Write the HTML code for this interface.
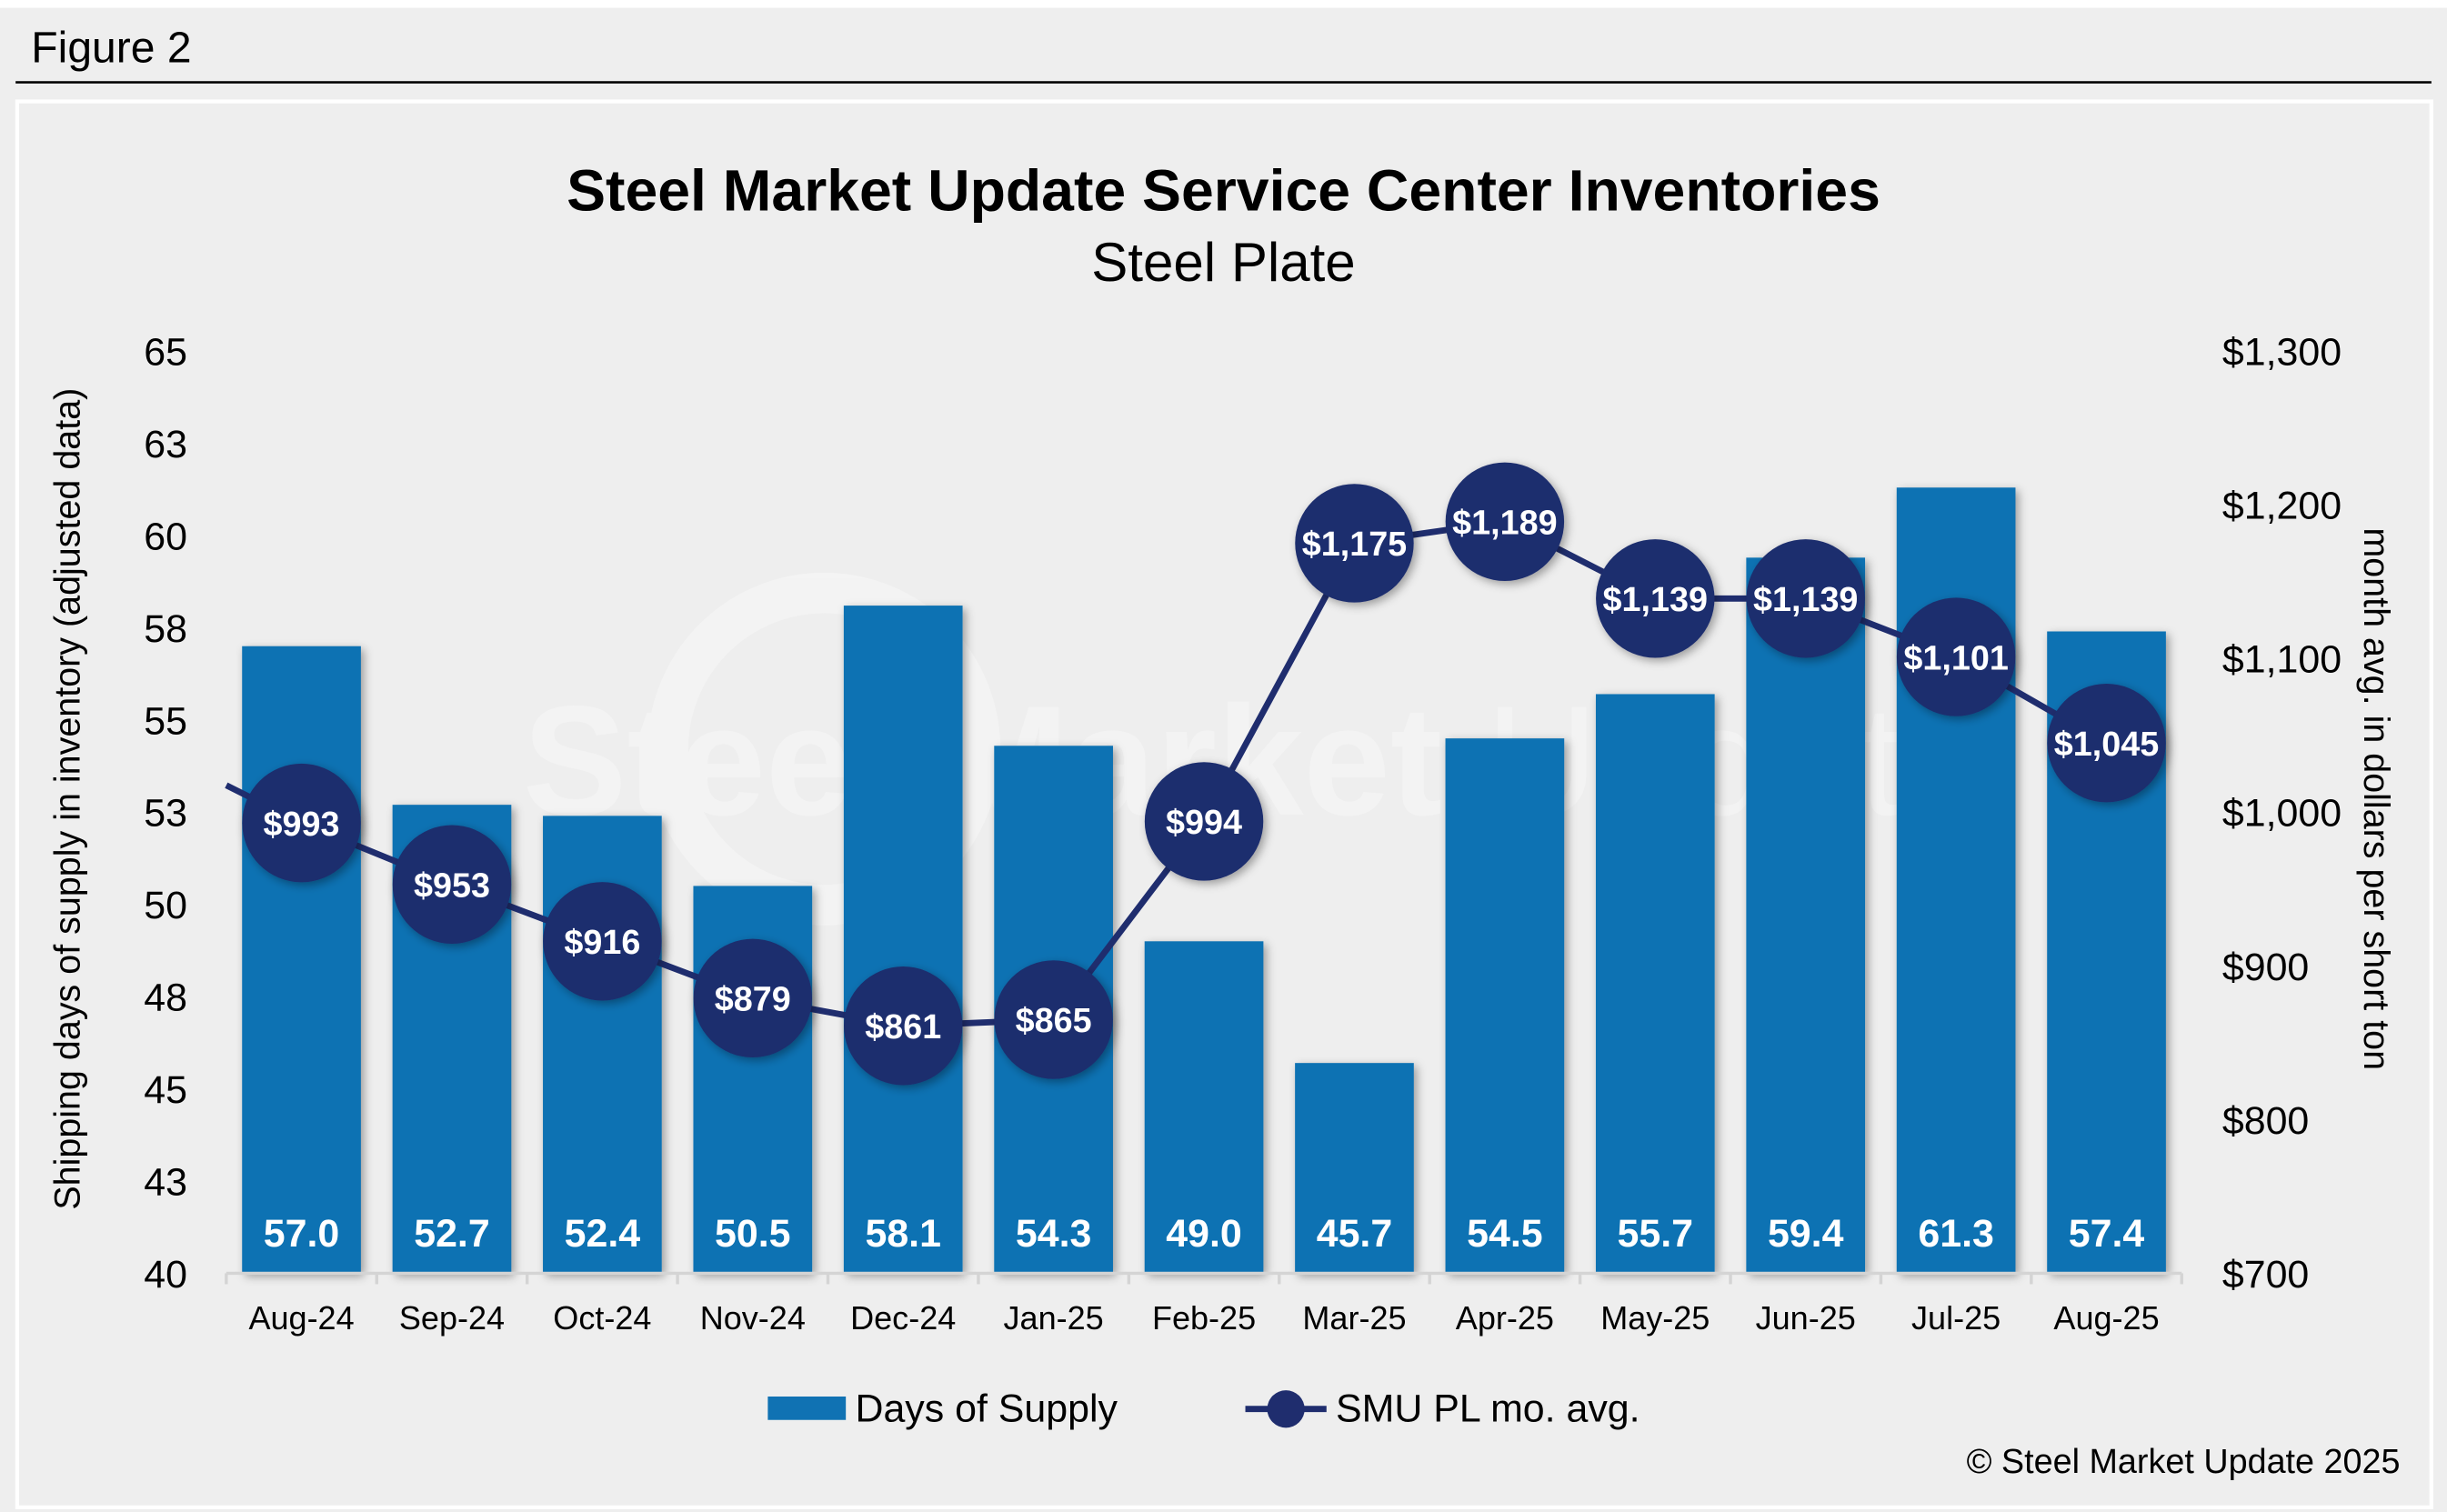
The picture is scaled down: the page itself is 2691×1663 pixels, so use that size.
<!DOCTYPE html>
<html><head><meta charset="utf-8"><style>
html,body{margin:0;padding:0;background:#eeeeee;}
svg{display:block;font-family:"Liberation Sans",Arial,sans-serif;}
</style></head><body>
<svg id="chart" width="2691" height="1663" viewBox="0 0 1568 969" preserveAspectRatio="none">
<defs>
<filter id="sh" x="-30%" y="-30%" width="160%" height="160%"><feDropShadow dx="2" dy="2" stdDeviation="3" flood-color="#000" flood-opacity="0.35"/></filter>
</defs>
<rect x="0" y="0" width="1568" height="969" fill="#eeeeee"/>
<rect x="0" y="0" width="1568" height="5" fill="#ffffff"/>
<text x="20" y="40" font-size="28" fill="#000">Figure 2</text>
<rect x="10" y="52" width="1548" height="1.5" fill="#000"/>
<rect x="11" y="65" width="1547" height="901" fill="none" stroke="#ffffff" stroke-width="2.5"/>
<g opacity="0.35" fill="#ffffff">
<circle cx="528" cy="480" r="100" fill="none" stroke="#ffffff" stroke-width="26"/>
<text x="335" y="522" font-size="100" font-weight="bold">Steel Market <tspan font-weight="normal">Update</tspan></text>
</g>
<text x="784" y="135" font-size="37.5" font-weight="bold" text-anchor="middle">Steel Market Update Service Center Inventories</text>
<text x="784" y="180" font-size="35" text-anchor="middle">Steel Plate</text>
<g id="yleft"></g>
<g id="yright"></g>
<g id="bars"></g>
<g id="xaxis"></g>
<g id="line"></g>
<text transform="translate(51,512) rotate(-90)" font-size="23" text-anchor="middle">Shipping days of supply in inventory (adjusted data)</text>
<text transform="translate(1515,512) rotate(90)" font-size="23" text-anchor="middle">month avg. in dollars per short ton</text>
<g>
<g>
<rect x="492" y="895" width="50" height="15" fill="#1072b3"/>
<text x="548" y="911" font-size="25">Days of Supply</text>
</g>
<g>
<line x1="798" y1="903" x2="850" y2="903" stroke="#1f2d6e" stroke-width="4"/>
<circle cx="824" cy="903" r="12" fill="#1f2d6e"/>
<text x="856" y="911" font-size="25">SMU PL mo. avg.</text>
</g>
</g>
<text x="1538" y="944" font-size="22" text-anchor="end">© Steel Market Update 2025</text>
</svg>
<script>
const categories = ["Aug-24","Sep-24","Oct-24","Nov-24","Dec-24","Jan-25","Feb-25","Mar-25","Apr-25","May-25","Jun-25","Jul-25","Aug-25"];
const daysOfSupply = [57.0,52.7,52.4,50.5,58.1,54.3,49.0,45.7,54.5,55.7,59.4,61.3,57.4];
const priceAvg = [993,953,916,879,861,865,994,1175,1189,1139,1139,1101,1045];
const priorPrice = 1042;
const leftTicks = [40,42.5,45,47.5,50,52.5,55,57.5,60,62.5,65];
const leftTickLabels = ["40","43","45","48","50","53","55","58","60","63","65"];
const rightTicks = [700,800,900,1000,1100,1200,1300];

const NS="http://www.w3.org/2000/svg";
const X0=145, X1=1398, YB=816, YT=225;
const band=(X1-X0)/categories.length;
const xc=i=>X0+band*(i+0.5);
const yL=v=>YB-(v-40)/(65-40)*(YB-YT);
const yR=v=>YB-(v-700)/(1300-700)*(YB-YT);
function mk(tag,attrs,parent,txt){const e=document.createElementNS(NS,tag);for(const k in attrs)e.setAttribute(k,attrs[k]);if(txt!==undefined)e.textContent=txt;parent.appendChild(e);return e;}

const gl=document.getElementById('yleft');
leftTicks.forEach((t,i)=>{
  const e=mk('text',{x:120,y:yL(t)+9,'font-size':25,'text-anchor':'end'},gl,leftTickLabels[i]);
  
  
});
const gr=document.getElementById('yright');
rightTicks.forEach(t=>{
  const e=mk('text',{x:1424,y:yR(t)+9,'font-size':25},gr,'$'+t.toLocaleString('en-US'));
  
  
});
const gb=document.getElementById('bars');
const bw=band*0.79;
daysOfSupply.forEach((v,i)=>{
  const r=mk('rect',{x:xc(i)-bw/2,y:yL(v),width:bw,height:YB-yL(v),fill:'#1072b3',filter:'url(#sh)'},gb);
  
  
  const t=mk('text',{x:xc(i),y:799,'font-size':25,'font-weight':'bold',fill:'#fff','text-anchor':'middle'},gb,v.toFixed(1));
  
  
});
const gx=document.getElementById('xaxis');
const ax=mk('line',{x1:X0,y1:YB,x2:X1,y2:YB,stroke:'#d4d4d4','stroke-width':2},gx);


for(let i=0;i<=categories.length;i++){
  const tk=mk('line',{x1:X0+band*i,y1:YB,x2:X0+band*i,y2:YB+7,stroke:'#d4d4d4','stroke-width':2},gx);
  
  
}
categories.forEach((c,i)=>{
  const t=mk('text',{x:xc(i),y:852,'font-size':21,'text-anchor':'middle'},gx,c);
  
  
});
const gln=document.getElementById('line');
const px=xc(-1), py=yR(priorPrice), fx=xc(0), fy=yR(priceAvg[0]);
const f=(X0-px)/(fx-px);
let d='M'+X0+','+(py+(fy-py)*f);
priceAvg.forEach((v,i)=>{d+=' L'+xc(i)+','+yR(v);});
const pth=mk('path',{d:d,fill:'none',stroke:'#1f2d6e','stroke-width':4},gln);


priceAvg.forEach((v,i)=>{
  const c=mk('circle',{cx:xc(i),cy:yR(v),r:38,fill:'#1f2d6e',filter:'url(#sh)'},gln);
  
  
  const t=mk('text',{x:xc(i),y:yR(v)+8,'font-size':22,'font-weight':'bold',fill:'#fff','text-anchor':'middle'},gln,'$'+v.toLocaleString('en-US'));
  
  
});
</script>
</body></html>
